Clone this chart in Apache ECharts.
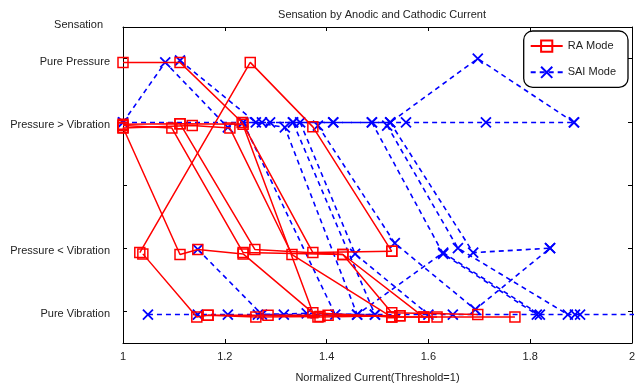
<!DOCTYPE html>
<html>
<head>
<meta charset="utf-8">
<script src="https://cdn.jsdelivr.net/npm/echarts@6/dist/echarts.min.js"></script>
<style>
  html, body { margin: 0; padding: 0; background: #fff; }
  #chart { width: 638px; height: 383px; }
</style>
</head>
<body>
<div id="chart"></div>
<script>
// sensation levels (1 = pure vibration ... 5 = pure pressure)
const yTicks = [1, 2, 3, 4, 5];
const yLabels = ['Pure Vibration', 'Pressure < Vibration', '', 'Pressure > Vibration', 'Pure Pressure'];
const xTicks = [1, 1.2, 1.4, 1.6, 1.8, 2];

// RA mode runs: [normalized current, sensation]
const ra1 = [[1.0, 4.94], [1.112, 4.94], [1.234, 3.99], [1.373, 0.98], [1.528, 0.91], [1.617, 0.91]];
const ra2 = [[1.033, 1.93], [1.25, 4.94], [1.373, 3.92], [1.528, 1.95]];
const ra3 = [[1.0, 3.91], [1.112, 1.9], [1.147, 1.98], [1.236, 1.91], [1.383, 0.91], [1.544, 0.93]];
const ra4 = [[1.039, 1.91], [1.145, 0.91], [1.167, 0.94], [1.261, 0.91], [1.387, 0.92]];
const ra5 = [[1.0, 3.94], [1.096, 3.9], [1.236, 1.93], [1.432, 1.9], [1.528, 0.98], [1.697, 0.95]];
const ra6 = [[1.0, 3.9], [1.136, 3.94], [1.21, 3.9], [1.332, 1.9], [1.528, 0.91], [1.591, 0.91]];
const ra7 = [[1.0, 3.96], [1.112, 3.97], [1.236, 3.96], [1.373, 1.93], [1.528, 1.95]];
const ra8 = [[1.112, 3.97], [1.259, 1.98], [1.432, 1.9], [1.591, 0.91], [1.77, 0.91]];
const ra9 = [[1.167, 0.94], [1.285, 0.94], [1.403, 0.94], [1.544, 0.93]];

// SAI mode runs
const sai1 = [[1.0, 3.99], [1.083, 4.94], [1.206, 3.91], [1.236, 3.99], [1.417, 0.95], [1.495, 0.95]];
const sai2 = [[1.112, 4.97], [1.261, 3.99], [1.318, 3.91], [1.46, 0.95]];
const sai3 = [[1.0, 3.99], [1.273, 3.99], [1.334, 3.99], [1.495, 0.95]];
const sai4 = [[1.383, 3.94], [1.534, 2.08], [1.692, 1.03], [1.839, 2.0]];
const sai5 = [[1.334, 3.99], [1.413, 3.99], [1.525, 3.99], [1.697, 5.0], [1.886, 3.99]];
const sai6 = [[1.236, 3.99], [1.289, 3.99], [1.413, 3.99], [1.489, 3.99], [1.556, 3.99], [1.713, 3.99], [1.886, 3.99]];
const sai7 = [[1.348, 3.99], [1.456, 1.91], [1.6, 0.95]];
const sai8 = [[1.489, 3.99], [1.629, 1.91], [1.813, 0.95]];
const sai9 = [[1.519, 3.94], [1.658, 2.0], [1.874, 0.95]];
const sai10 = [[1.525, 3.99], [1.688, 1.93], [1.839, 2.0]];
const sai11 = [[1.049, 0.95], [1.147, 0.95], [1.206, 0.95], [1.265, 0.95], [1.361, 0.97], [1.46, 0.95], [1.629, 1.93], [1.819, 0.95]];
const sai12 = [[1.147, 1.98], [1.273, 0.95], [1.316, 0.95], [1.648, 0.95], [1.888, 0.95], [1.898, 0.95], [2.1, 0.95]];

const raRuns = [ra1, ra2, ra3, ra4, ra5, ra6, ra7, ra8, ra9];
const saiRuns = [sai1, sai2, sai3, sai4, sai5, sai6, sai7, sai8, sai9, sai10, sai11, sai12];

const RED = '#ff0000';
const BLUE = '#0000ff';
const FONT = 'Liberation Sans, Arial, sans-serif';

const raSeries = raRuns.map(run => ({
  name: 'RA Mode',
  type: 'line',
  data: run,
  symbol: 'rect',
  symbolSize: 10,
  itemStyle: { color: 'none', borderColor: RED, borderWidth: 1.5 },
  lineStyle: { color: RED, width: 1.5 },
  z: 3
}));

const saiSeries = saiRuns.map(run => ({
  name: 'SAI Mode',
  type: 'line',
  data: run,
  symbol: 'path://M0,0L10,10M10,0L0,10',
  symbolSize: 10,
  itemStyle: { color: 'none', borderColor: BLUE, borderWidth: 1.8 },
  lineStyle: { color: BLUE, width: 1.6, type: [5, 4] },
  z: 2
}));

const chart = echarts.init(document.getElementById('chart'), null, { renderer: 'canvas' });

const xBase = {
  type: 'value',
  min: 1,
  max: 2,
  interval: 0.2,
  axisLine: { lineStyle: { color: '#000', width: 1 } },
  axisTick: { inside: true, length: 4, lineStyle: { color: '#000' } },
  splitLine: { show: false }
};
const yBase = {
  type: 'value',
  min: 0.5,
  max: 5.5,
  axisLine: { show: true, lineStyle: { color: '#000', width: 1 } },
  axisTick: { show: true, inside: true, length: 4, customValues: yTicks, lineStyle: { color: '#000' } },
  splitLine: { show: false }
};

chart.setOption({
  animation: false,
  backgroundColor: '#fff',
  textStyle: { fontFamily: FONT },
  title: {
    text: 'Sensation by Anodic and Cathodic Current',
    left: 377,
    textAlign: 'center',
    top: 4,
    textStyle: { fontSize: 11, fontWeight: 'normal', color: '#222', fontFamily: FONT }
  },
  legend: {
    data: ['RA Mode', 'SAI Mode'],
    orient: 'vertical',
    right: 10,
    top: 31,
    itemWidth: 32,
    itemHeight: 14,
    itemGap: 10,
    padding: [7, 12, 7, 6],
    borderColor: '#000',
    borderWidth: 1.3,
    borderRadius: 9,
    backgroundColor: '#fff',
    textStyle: { fontSize: 11, color: '#222', fontFamily: FONT }
  },
  grid: { left: 123, right: 6, top: 27, bottom: 40, containLabel: false, outerBoundsMode: 'none' },
  xAxis: [
    Object.assign({}, xBase, {
      position: 'bottom',
      name: 'Normalized Current(Threshold=1)',
      nameLocation: 'middle',
      nameGap: 29,
      nameTextStyle: { fontSize: 11, color: '#222', fontFamily: FONT },
      axisLabel: { margin: 8, fontSize: 11, color: '#222', fontFamily: FONT, formatter: v => String(+v.toFixed(1)) }
    }),
    Object.assign({}, xBase, { position: 'top', axisLabel: { show: false } })
  ],
  yAxis: [
    Object.assign({}, yBase, {
      position: 'left',
      name: 'Sensation',
      nameLocation: 'end',
      nameGap: 2,
      nameTextStyle: { fontSize: 11, color: '#222', align: 'right', verticalAlign: 'middle', padding: [0, 20, 0, 0], fontFamily: FONT },
      axisLabel: {
        margin: 13,
        fontSize: 11,
        color: '#222',
        fontFamily: FONT,
        verticalAlign: 'top',
        lineHeight: 6,
        customValues: yTicks,
        formatter: v => yLabels[yTicks.indexOf(Math.round(v))] || ''
      }
    }),
    Object.assign({}, yBase, { position: 'right', axisLabel: { show: false } })
  ],
  series: raSeries.concat(saiSeries)
});
</script>
</body>
</html>
